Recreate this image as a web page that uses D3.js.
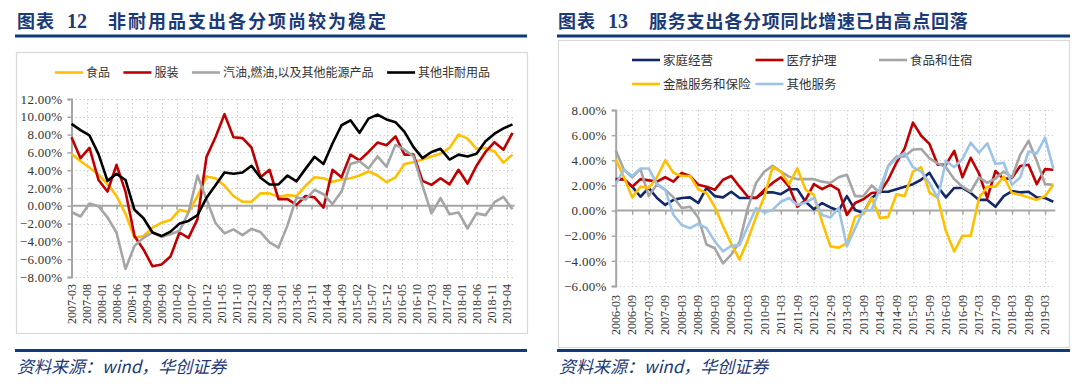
<!DOCTYPE html>
<html><head><meta charset="utf-8">
<script src="https://cdn.jsdelivr.net/npm/d3@7"></script>
<style>
html,body{margin:0;padding:0;background:#fff;}
svg{display:block;}
</style></head>
<body>
<svg id="c" width="1088" height="386"></svg>
<script>
// ---------------- DATA ----------------
// Chart 12 (left): quarterly, 2007-03 .. 2019-06
const leftStart = "2007-03";
const leftQuarterCount = 50;
const leftTickLabels = ["2007-03","2007-08","2008-01","2008-06","2008-11","2009-04","2009-09","2010-02","2010-07","2010-12","2011-05","2011-10","2012-03","2012-08","2013-01","2013-06","2013-11","2014-04","2014-09","2015-02","2015-07","2015-12","2016-05","2016-10","2017-03","2017-08","2018-01","2018-06","2018-11","2019-04"];
const leftYTicks = [12,10,8,6,4,2,0,-2,-4,-6,-8];
const leftNames = ["食品","服装","汽油,燃油,以及其他能源产品","其他非耐用品"];
const food = [5.85,5.0,4.3,3.5,2.45,1.1,-0.9,-3.6,-3.4,-2.45,-1.9,-1.6,-0.45,-0.7,1.1,3.3,3.1,2.25,1.1,0.45,0.45,1.4,1.4,1.0,1.2,1.1,2.25,3.2,3.1,2.7,2.95,3.1,3.4,3.85,3.4,2.65,3.2,4.7,4.9,5.2,5.55,5.85,6.5,8.0,7.55,6.4,6.5,6.1,4.85,5.75];
const apparel = [7.7,5.35,6.5,2.9,1.6,4.6,1.6,-3.4,-4.9,-6.8,-6.6,-5.7,-3.0,-3.6,-1.5,5.5,7.7,10.3,7.7,7.6,6.55,3.2,4.05,0.75,0.75,0.1,1.1,0.95,-0.2,4.05,3.2,5.75,5.1,6.05,7.1,6.8,7.8,5.75,5.75,2.8,2.35,3.1,2.4,4.05,2.5,4.5,6.05,7.15,6.3,8.2];
const energy = [-0.7,-1.2,0.25,-0.05,-1.3,-3.0,-7.1,-4.5,-3.6,-3.0,-3.5,-3.2,-2.8,-0.75,3.4,0.75,-1.95,-3.1,-2.65,-3.3,-2.6,-2.95,-4.1,-4.7,-2.2,0.95,0.7,1.8,1.3,0.2,1.6,4.7,5.0,4.2,5.55,4.4,6.85,6.3,5.55,2.25,-0.85,0.85,-0.95,-0.75,-2.55,-0.85,-1.05,0.4,1.0,-0.4];
const otherNondurable = [9.2,8.5,7.9,5.8,2.8,3.6,2.9,-0.45,-1.4,-3.0,-3.4,-2.9,-2.0,-1.7,-1.05,0.9,2.3,3.75,3.6,3.75,4.5,3.15,2.4,2.4,3.4,2.75,4.15,5.5,4.7,7.0,9.05,9.6,8.2,9.8,10.25,9.7,9.4,8.3,6.6,5.35,6.05,6.4,5.2,5.75,5.55,5.85,7.25,8.1,8.7,9.15];

// Chart 13 (right): quarterly, 2006-03 .. 2019-06
const rightStart = "2006-03";
const rightQuarterCount = 54;
const rightTickLabels = ["2006-03","2006-09","2007-03","2007-09","2008-03","2008-09","2009-03","2009-09","2010-03","2010-09","2011-03","2011-09","2012-03","2012-09","2013-03","2013-09","2014-03","2014-09","2015-03","2015-09","2016-03","2016-09","2017-03","2017-09","2018-03","2018-09","2019-03"];
const rightYTicks = [8,6,4,2,0,-2,-4,-6];
const rightNames = ["家庭经营","医疗护理","食品和住宿","金融服务和保险","其他服务"];
const household = [2.5,2.5,1.9,1.1,1.8,1.0,0.45,0.85,1.0,1.05,0.6,1.8,1.15,1.05,1.5,1.0,1.0,1.0,1.45,1.45,1.3,1.7,1.7,0.7,0.1,0.6,0.25,0.0,1.15,0.05,-0.2,1.0,1.5,1.5,1.7,1.9,2.1,2.45,3.0,1.9,1.05,1.8,1.8,1.4,0.85,0.85,0.3,1.15,1.55,1.45,1.5,1.05,1.0,0.7];
const medical = [2.45,2.5,1.9,2.5,2.4,2.3,2.65,2.3,3.0,2.75,2.05,1.9,1.65,2.45,2.75,1.9,1.1,1.0,1.65,2.2,2.65,1.9,0.3,0.85,2.1,1.7,2.05,1.65,-0.35,0.6,0.9,1.4,1.45,2.45,3.8,4.95,7.0,5.95,5.3,3.65,3.65,4.75,2.65,4.2,2.95,1.0,3.15,2.5,2.6,3.55,3.65,2.1,3.3,3.25];
const foodLodging = [4.8,3.25,2.65,3.3,1.15,2.1,1.65,1.05,0.2,0.3,-0.55,-2.7,-3.0,-4.2,-3.5,-2.5,0.2,2.2,3.1,3.55,3.1,2.7,2.5,2.5,2.5,2.3,2.2,2.65,2.85,1.15,1.15,2.0,1.4,3.55,4.3,4.3,4.85,4.9,4.15,3.75,3.45,2.5,1.9,1.5,2.65,2.2,2.55,3.1,2.65,4.45,5.55,3.95,2.1,2.05];
const finance = [4.1,2.65,1.05,1.9,1.8,2.65,4.0,3.0,2.75,2.75,1.7,1.4,0.3,-1.25,-2.65,-3.9,-2.35,-0.5,1.1,3.45,3.1,2.1,3.35,1.65,1.25,-0.9,-2.85,-2.95,-2.6,-0.5,-0.25,1.0,-0.6,-0.5,1.3,1.15,3.1,3.45,1.45,1.0,-1.65,-3.25,-2.0,-2.0,1.0,1.9,1.9,2.7,1.4,1.25,1.05,0.85,1.15,2.05];
const otherServices = [2.1,3.25,2.75,3.35,3.35,2.1,1.65,-0.35,-1.15,-1.4,-1.05,-1.4,-2.45,-3.25,-2.8,-2.75,-1.25,0.2,-0.15,0.05,0.7,1.0,0.45,0.65,1.0,-0.35,-0.55,0.2,-2.85,-1.4,0.0,0.05,1.8,3.5,4.15,4.6,3.45,3.1,2.2,1.0,3.95,3.45,4.1,5.4,4.6,5.35,3.7,3.8,2.05,2.65,4.7,4.55,5.8,3.35];

// ---------------- HELPERS ----------------
const monthIdx = s => { const [y,m] = s.split("-").map(Number); return y*12 + (m-1); };
const NAVY = "#1b3a78";
const GRID = "#cfcfcf";
const AXIS = "#a6a6a6";
const CJK = "'Noto Sans CJK SC', sans-serif";
const SERIF = "'Liberation Serif', 'DejaVu Serif', serif";
const fmtPct = d => d3.format(".2f")(d) + "%";

const svg = d3.select("#c");

function drawPanel(opt) {
  const g = svg.append("g");
  // title
  const t = g.append("text").attr("x", opt.titleX).attr("y", 28)
    .attr("fill", NAVY).attr("font-weight", "bold");
  t.append("tspan").attr("font-family", CJK).attr("font-size", 18).attr("letter-spacing", 1).text("图表");
  t.append("tspan").attr("font-family", SERIF).attr("font-size", 20).attr("dx", 12).text(opt.num);
  t.append("tspan").attr("font-family", CJK).attr("font-size", 18).attr("dx", 21).attr("letter-spacing", opt.titleSpacing).text(opt.title);
  // rules
  g.append("rect").attr("x", opt.ruleX0).attr("y", 34.5).attr("width", opt.ruleX1 - opt.ruleX0).attr("height", 3).attr("fill", "#0f3a7e");
  g.append("rect").attr("x", opt.ruleX0).attr("y", 349).attr("width", opt.ruleX1 - opt.ruleX0).attr("height", 3).attr("fill", "#0f3a7e");
  // source
  g.append("text").attr("x", opt.ruleX0 + 2).attr("y", 373).attr("fill", NAVY)
    .attr("font-family", CJK).attr("font-size", 17).attr("font-style", "italic")
    .text("资料来源：wind，华创证券");
  // box
  g.append("rect").attr("x", opt.box[0] + 0.5).attr("y", opt.box[1] + 0.5)
    .attr("width", opt.box[2] - opt.box[0]).attr("height", opt.box[3] - opt.box[1])
    .attr("fill", "none").attr("stroke", "#d9d9d9").attr("stroke-width", 1.2);

  const x = d3.scaleLinear().domain([0, opt.endIdx]).range(opt.xRange);
  const y = d3.scaleLinear().domain(opt.yDomain).range(opt.yRange);
  const xr = opt.xRange;

  // horizontal dotted grid
  g.append("g").selectAll("line").data(opt.yTicks.filter(v => v !== 0)).join("line")
    .attr("x1", xr[0]).attr("x2", xr[1] + 2).attr("y1", d => Math.round(y(d)) + 0.5).attr("y2", d => Math.round(y(d)) + 0.5)
    .attr("stroke", GRID).attr("stroke-dasharray", "1.5,2.5").attr("stroke-width", 1);
  // vertical dotted grid
  const tickIdx = opt.tickLabels.map(s => monthIdx(s) - monthIdx(opt.start));
  g.append("g").selectAll("line").data(tickIdx.filter(i => i > 0)).join("line")
    .attr("x1", d => Math.round(x(d)) + 0.5).attr("x2", d => Math.round(x(d)) + 0.5)
    .attr("y1", opt.yRange[1]).attr("y2", opt.yRange[0])
    .attr("stroke", GRID).attr("stroke-dasharray", "1.5,2.5").attr("stroke-width", 1);

  // y axis
  const yAxis = d3.axisLeft(y).tickValues(opt.yTicks).tickSize(4).tickPadding(5).tickFormat(fmtPct);
  const ya = g.append("g").attr("transform", `translate(${xr[0]},0)`).call(yAxis);
  ya.select(".domain").attr("stroke", AXIS).attr("stroke-width", 2);
  ya.selectAll(".tick line").attr("stroke", AXIS).attr("stroke-width", 1.5);
  ya.selectAll(".tick text").attr("font-family", SERIF).attr("font-size", 13).attr("letter-spacing", 0.3).attr("fill", "#333");

  // zero axis line with ticks
  const xAxis = d3.axisBottom(x).tickValues(tickIdx).tickSize(4).tickFormat("");
  const xa = g.append("g").attr("transform", `translate(0,${y(0)})`).call(xAxis);
  xa.select(".domain").attr("stroke", AXIS).attr("stroke-width", 2).attr("d", `M${xr[0]},0H${xr[1] + 2}`);
  xa.selectAll(".tick line").attr("stroke", AXIS).attr("stroke-width", 1.5);

  // x labels at bottom (rotated)
  g.append("g").selectAll("text").data(opt.tickLabels).join("text")
    .attr("transform", (d, i) => `translate(${x(tickIdx[i])},${opt.labelTop}) rotate(-90)`)
    .attr("text-anchor", "end").attr("dy", "0.35em")
    .attr("font-family", SERIF).attr("font-size", 12).attr("fill", "#333")
    .text(d => d);

  // lines
  const line = d3.line().x((d, i) => x(i * 3)).y(d => y(d));
  opt.series.forEach(s => {
    g.append("path").datum(s.values).attr("d", line)
      .attr("fill", "none").attr("stroke", s.color).attr("stroke-width", 2.6)
      .attr("stroke-linejoin", "round");
  });
  return g;
}

// ---------------- LEFT ----------------
const leftColors = ["#FFC000","#C00000","#A5A5A5","#000000"];
const leftG = drawPanel({
  titleX: 17, num: "12", title: "非耐用品支出各分项尚较为稳定", titleSpacing: 2,
  ruleX0: 15, ruleX1: 527, box: [16, 52, 527, 333],
  start: leftStart, endIdx: (leftQuarterCount - 1) * 3, xRange: [71.5, 512.5],
  yDomain: [-8, 12], yRange: [277, 99], yTicks: leftYTicks,
  tickLabels: leftTickLabels, labelTop: 284,
  series: [food, apparel, energy, otherNondurable].map((v, i) => ({ values: v, color: leftColors[i] }))
});
// left legend (centered flow)
{
  const lg = leftG.append("g");
  const items = [];
  leftNames.forEach((n, i) => {
    const it = lg.append("g");
    it.append("line").attr("x1", 0).attr("x2", 28).attr("y1", 0).attr("y2", 0)
      .attr("stroke", leftColors[i]).attr("stroke-width", 2.6);
    const tx = it.append("text").attr("x", 31).attr("y", 0).attr("dy", "0.36em")
      .attr("font-family", CJK).attr("font-size", 12).attr("fill", "#333").text(n);
    const w = 31 + tx.node().getComputedTextLength();
    items.push({ it, w });
  });
  const gap = 13.5;
  const total = d3.sum(items, d => d.w) + gap * (items.length - 1);
  let sx = (16 + 527) / 2 - total / 2 + 1;
  items.forEach(d => { d.it.attr("transform", `translate(${sx},72.5)`); sx += d.w + gap; });
}

// ---------------- RIGHT ----------------
const rightColors = ["#13286B","#C00000","#A5A5A5","#FFC000","#9DC3E6"];
const rightG = drawPanel({
  titleX: 558, num: "13", title: "服务支出各分项同比增速已由高点回落", titleSpacing: 0.8,
  ruleX0: 557, ruleX1: 1070, box: [558, 40, 1069, 347],
  start: rightStart, endIdx: (rightQuarterCount - 1) * 3, xRange: [615.7, 1053.3],
  yDomain: [-6, 8], yRange: [286, 110], yTicks: rightYTicks,
  tickLabels: rightTickLabels, labelTop: 295,
  series: [household, medical, foodLodging, finance, otherServices].map((v, i) => ({ values: v, color: rightColors[i] }))
});
// right legend (3 columns grid)
{
  const lg = rightG.append("g");
  rightNames.forEach((n, i) => {
    const col = i % 3, row = Math.floor(i / 3);
    const it = lg.append("g").attr("transform", `translate(${632 + col * 123.5},${60 + row * 24})`);
    it.append("line").attr("x1", 0).attr("x2", 28).attr("y1", 0).attr("y2", 0)
      .attr("stroke", rightColors[i]).attr("stroke-width", 2.6);
    it.append("text").attr("x", 31).attr("y", 0).attr("dy", "0.36em")
      .attr("font-family", CJK).attr("font-size", 12.5).attr("fill", "#333").text(n);
  });
}
</script>
</body></html>
